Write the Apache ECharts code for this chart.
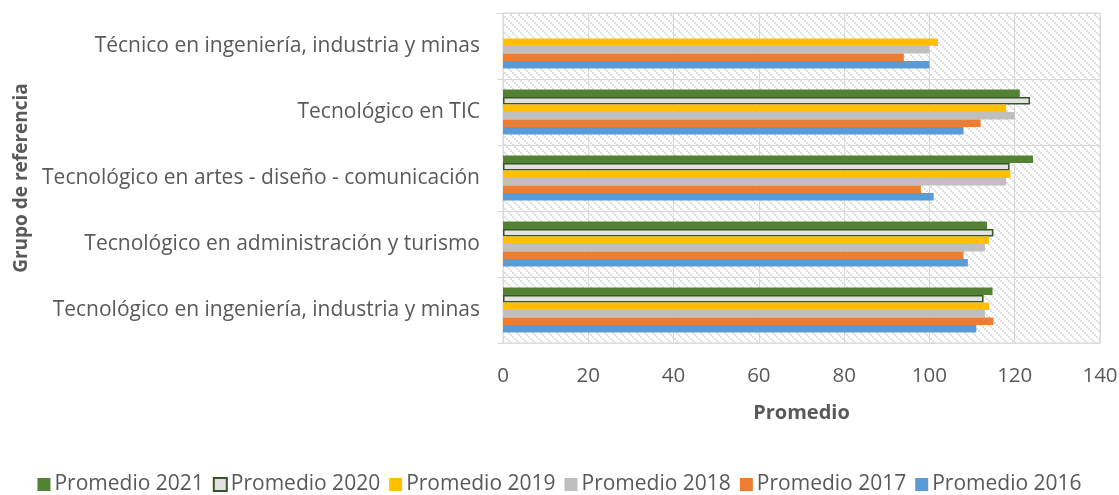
<!DOCTYPE html>
<html>
<head>
<meta charset="utf-8">
<script src="https://cdn.jsdelivr.net/npm/echarts@6/dist/echarts.min.js"></script>
<style>
  html, body { margin: 0; padding: 0; background: #fff; }
  #chart { width: 1119px; height: 495px; }
</style>
</head>
<body>
<div id="chart"></div>
<script>
window.onload = function() {

  // categorias de abajo hacia arriba
  var categories = [
    'Tecnológico en ingeniería, industria y minas',
    'Tecnológico en administración y turismo',
    'Tecnológico en artes - diseño - comunicación',
    'Tecnológico en TIC',
    'Técnico en ingeniería, industria y minas'
  ];

  var p2021 = [114.8, 113.5, 124.3, 121.2, null];
  var p2020 = [112.7, 115, 118.8, 123.6, null];
  var p2019 = [114, 114, 119, 118, 102];
  var p2018 = [113, 113, 118, 120, 100];
  var p2017 = [115, 108, 98, 112, 94];
  var p2016 = [111, 109, 101, 108, 100];

  var seriesNames = ['Promedio 2021', 'Promedio 2020', 'Promedio 2019',
                     'Promedio 2018', 'Promedio 2017', 'Promedio 2016'];
  var seriesData = [p2021, p2020, p2019, p2018, p2017, p2016];
  var colors = ['#548235', '#e2e2e2', '#ffc000', '#bfbfbf', '#ed7d31', '#5b9bd5'];

  var xTicks = [0, 20, 40, 60, 80, 100, 120, 140];

  // trama de fondo del area de trazado
  function makePattern() {
    var c = document.createElement('canvas');
    c.width = 8; c.height = 8;
    var ctx = c.getContext('2d');
    ctx.fillStyle = '#ffffff';
    ctx.fillRect(0, 0, 8, 8);
    ctx.fillStyle = '#e0e0e0';
    for (var i = 0; i < 4; i++) {
      for (var j = 0; j < 4; j++) {
        if ((i + j) % 2 === 0 && (i - j + 8) % 4 !== 2) {
          ctx.fillRect(i * 2, j * 2, 2, 2);
        }
      }
    }
    return c;
  }

  var font = 'Open Sans';
  var txt = '#595959';

  var chartNode = document.getElementById('chart'),
      myChart = echarts.init(chartNode);

  var series = seriesNames.map(function(name, idx) {
    var s = {
      name: name,
      type: 'bar',
      data: seriesData[idx],
      barGap: '0%',
      barCategoryGap: '32%',
      itemStyle: { color: colors[idx] }
    };
    if (idx === 1) {
      s.itemStyle.borderColor = '#375623';
      s.itemStyle.borderWidth = 1.5;
    }
    return s;
  });

  var option = {
    animation: false,
    backgroundColor: '#ffffff',
    textStyle: { fontFamily: font },
    grid: {
      left: 503,
      right: 19,
      top: 13,
      bottom: 152,
      outerBoundsMode: 'none',
      show: true,
      backgroundColor: { image: makePattern(), repeat: 'repeat' },
      borderColor: '#d9d9d9',
      borderWidth: 1
    },
    legend: {
      top: 469,
      left: 'center',
      itemGap: 9,
      itemWidth: 13,
      itemHeight: 13,
      icon: 'rect',
      data: seriesNames,
      textStyle: { color: txt, fontSize: 21, fontFamily: font, padding: [0, 0, 0, -1] }
    },
    xAxis: {
      type: 'value',
      min: xTicks[0],
      max: xTicks[xTicks.length - 1],
      interval: 20,
      name: 'Promedio',
      nameLocation: 'middle',
      nameGap: 60,
      nameTextStyle: { color: txt, fontSize: 20, fontWeight: 'bold', fontFamily: font },
      axisLine: { show: false },
      axisTick: { show: false },
      axisLabel: { color: txt, fontSize: 20.5, margin: 23, fontFamily: font },
      splitLine: { lineStyle: { color: '#d9d9d9', width: 1 } }
    },
    yAxis: {
      type: 'category',
      data: categories,
      name: 'Grupo de referencia',
      nameLocation: 'middle',
      nameGap: 471,
      nameRotate: 90,
      nameTextStyle: { color: txt, fontSize: 19, fontWeight: 'bold', fontFamily: font },
      axisLine: { show: true, lineStyle: { color: '#d9d9d9' } },
      axisTick: { show: true, length: 6, lineStyle: { color: '#d9d9d9' } },
      axisLabel: { color: txt, fontSize: 21, margin: 23, fontFamily: font },
      splitLine: { show: true, lineStyle: { color: '#d9d9d9', width: 1 } }
    },
    series: series
  };

  myChart.setOption(option);
};
</script>
</body>
</html>
